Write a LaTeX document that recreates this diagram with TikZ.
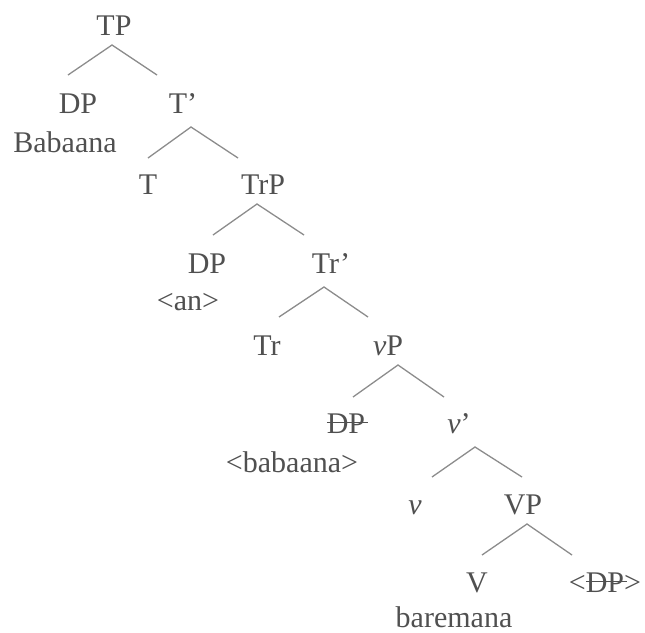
\documentclass[tikz,border=0pt]{standalone}
\usepackage{fontspec}
\setmainfont{Liberation Serif}
\definecolor{txtgray}{HTML}{505050}
\definecolor{linegray}{HTML}{8C8C8C}
\newlength\strklen
\newcommand\strk[1]{\settowidth\strklen{#1}\rlap{\rule[0.32em]{1.08\strklen}{0.04em}}#1}
\tikzset{
  lab/.style={anchor=base, inner sep=0pt, text=txtgray, font=\fontsize{30}{36}\selectfont},
  edge/.style={draw=linegray, line width=1.3pt}
}
\begin{document}
\begin{tikzpicture}[x=1pt,y=-1pt]
\useasboundingbox (0,0) rectangle (645,632);
% labels
\node[lab] (tp) at (114,35) {TP};
\node[lab] (dp1) at (78,113) {DP};
\node[lab] (tbar) at (183,113) {T’};
\node[lab] (bab1) at (65,152) {Babaana};
\node[lab] (t) at (148,194) {T};
\node[lab] (trp) at (263,194) {TrP};
\node[lab] (dp2) at (207,273) {DP};
\node[lab] (trbar) at (331,273) {Tr’};
\node[lab] (an) at (188,310) {<an>};
\node[lab] (tr) at (267,355) {Tr};
\node[lab] (vp) at (388,355) {\textit{v}P};
\node[lab] (dp3) at (346,433) {\strk{DP}};
\node[lab] (vbar) at (459,433) {\textit{v}’};
\node[lab] (bab2) at (292,472) {<babaana>};
\node[lab] (v) at (415,514) {\textit{v}};
\node[lab] (bigvp) at (523,514) {VP};
\node[lab] (bigv) at (477,592) {V};
\node[lab] (dp4) at (605,592) {<\strk{DP}>};
\node[lab] (bare) at (454,627) {baremana};
% branches
\coordinate (a1) at (112,45); \coordinate (l1) at (68,75); \coordinate (r1) at (157,75);
\coordinate (a2) at (191,127); \coordinate (l2) at (148,158); \coordinate (r2) at (238,158);
\coordinate (a3) at (257,204); \coordinate (l3) at (213,235); \coordinate (r3) at (304,235);
\coordinate (a4) at (324,287); \coordinate (l4) at (279,317); \coordinate (r4) at (368,317);
\coordinate (a5) at (398,365); \coordinate (l5) at (353,397); \coordinate (r5) at (444,397);
\coordinate (a6) at (475,447); \coordinate (l6) at (432,477); \coordinate (r6) at (522,477);
\coordinate (a7) at (527,524); \coordinate (l7) at (482,555); \coordinate (r7) at (572,555);
\foreach \i in {1,...,7} {
  \draw[edge] (l\i) -- (a\i) -- (r\i);
}
\end{tikzpicture}
\end{document}
